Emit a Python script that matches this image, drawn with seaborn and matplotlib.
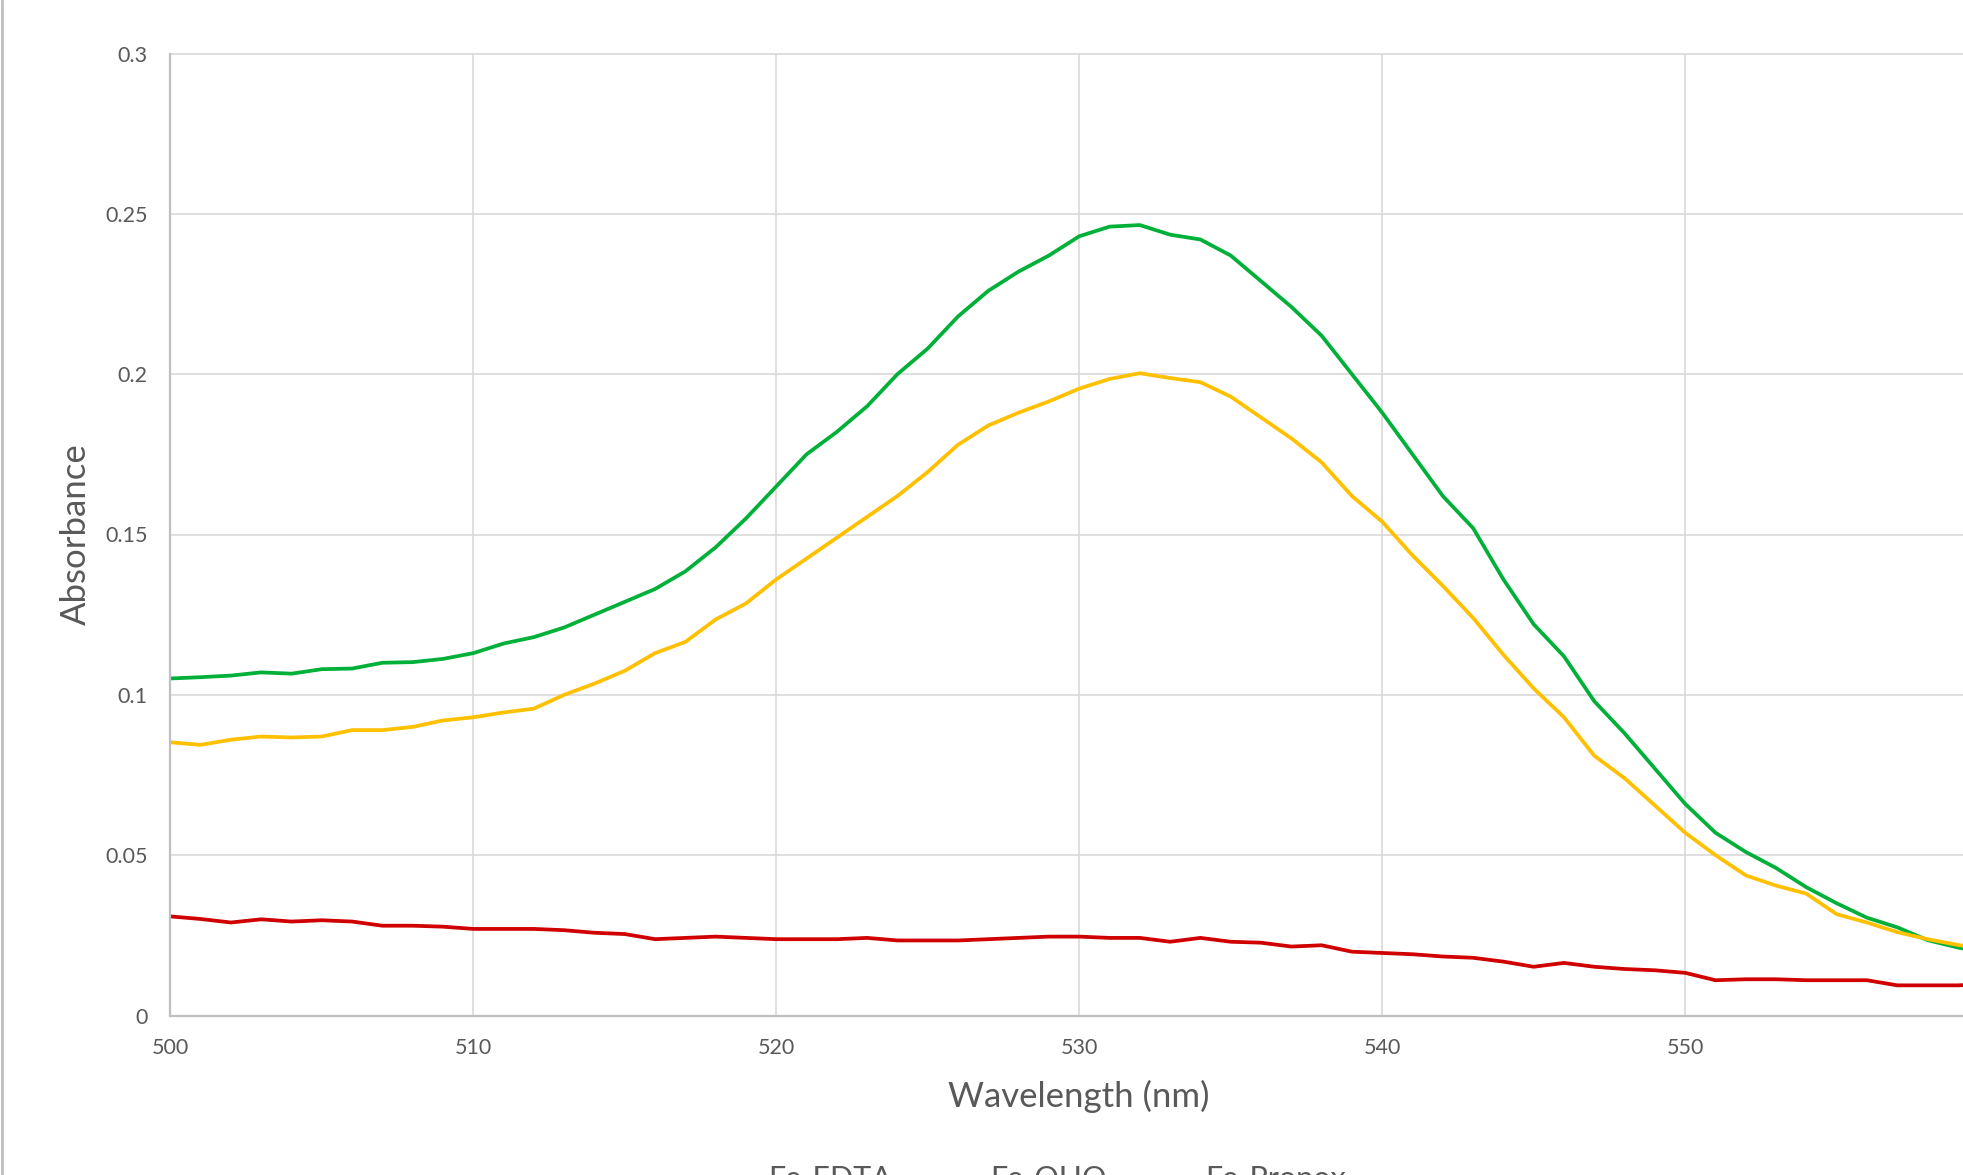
import numpy as np
import pandas as pd
import matplotlib
matplotlib.use("Agg")
import matplotlib.pyplot as plt
import seaborn as sns

# ---- data ----
wavelength = list(range(500, 561))
fe_edta = [0.1051, 0.1055, 0.1060, 0.1070, 0.1066, 0.1080, 0.1082, 0.1100, 0.1102, 0.1112,
           0.1130, 0.1160, 0.1180, 0.1210, 0.1250, 0.1290, 0.1330, 0.1385, 0.1460, 0.1550,
           0.1650, 0.1750, 0.1820, 0.1900, 0.2000, 0.2080, 0.2180, 0.2260, 0.2320, 0.2370,
           0.2430, 0.2460, 0.2465, 0.2435, 0.2420, 0.2370, 0.2290, 0.2210, 0.2120, 0.2000,
           0.1880, 0.1750, 0.1620, 0.1520, 0.1360, 0.1220, 0.1120, 0.0980, 0.0880, 0.0770,
           0.0660, 0.0570, 0.0510, 0.0460, 0.0400, 0.0350, 0.0305, 0.0275, 0.0235, 0.0212,
           0.0195]
fe_ohq = [0.0852, 0.0844, 0.0860, 0.0870, 0.0867, 0.0870, 0.0890, 0.0890, 0.0900, 0.0920,
          0.0930, 0.0945, 0.0957, 0.1000, 0.1035, 0.1075, 0.1130, 0.1165, 0.1235, 0.1285,
          0.1360, 0.1425, 0.1490, 0.1555, 0.1620, 0.1695, 0.1780, 0.1840, 0.1880, 0.1915,
          0.1955, 0.1985, 0.2003, 0.1988, 0.1975, 0.1930, 0.1865, 0.1800, 0.1725, 0.1620,
          0.1540, 0.1435, 0.1340, 0.1240, 0.1125, 0.1020, 0.0930, 0.0810, 0.0740, 0.0655,
          0.0570, 0.0500, 0.0437, 0.0405, 0.0380, 0.0316, 0.0290, 0.0260, 0.0238, 0.0220,
          0.0205]
fe_propox = [0.0309, 0.0301, 0.0290, 0.0300, 0.0293, 0.0297, 0.0293, 0.0280, 0.0280, 0.0277,
             0.0270, 0.0270, 0.0270, 0.0266, 0.0258, 0.0254, 0.0238, 0.0242, 0.0246, 0.0242,
             0.0238, 0.0238, 0.0238, 0.0242, 0.0234, 0.0234, 0.0234, 0.0238, 0.0242, 0.0246,
             0.0246, 0.0242, 0.0242, 0.0230, 0.0242, 0.0230, 0.0227, 0.0215, 0.0219, 0.0199,
             0.0195, 0.0191, 0.0184, 0.0180, 0.0168, 0.0152, 0.0164, 0.0152, 0.0145, 0.0141,
             0.0133, 0.0110, 0.0113, 0.0113, 0.0110, 0.0110, 0.0110, 0.0094, 0.0094, 0.0094,
             0.0098]
series_names = ["Fe-EDTA", "Fe-OHQ", "Fe-Propox"]
series_colors = ["#00B038", "#FFC000", "#D00000"]
x_ticks = [500, 510, 520, 530, 540, 550]
y_ticks = [0, 0.05, 0.1, 0.15, 0.2, 0.25, 0.3]
y_tick_labels = ["0", "0.05", "0.1", "0.15", "0.2", "0.25", "0.3"]

df = pd.DataFrame({
    "Wavelength (nm)": wavelength * 3,
    "Absorbance": fe_edta + fe_ohq + fe_propox,
    "Series": [series_names[0]] * len(wavelength) + [series_names[1]] * len(wavelength)
              + [series_names[2]] * len(wavelength),
})

sns.set_theme(style="white")
plt.rcParams["font.family"] = ["Lato", "DejaVu Sans"]

W, H = 1963, 1175
fig = plt.figure(figsize=(W / 100, H / 100), dpi=100)
left = 170.3 / W
bottom = 1 - 1015.5 / H
top = 1 - 53.5 / H
ax = fig.add_axes([left, bottom, 1 - left, top - bottom])

sns.lineplot(data=df, x="Wavelength (nm)", y="Absorbance", hue="Series",
             palette=dict(zip(series_names, series_colors)), linewidth=2.7, ax=ax)
for ln in ax.get_lines():
    ln.set_solid_joinstyle("round")
    ln.set_solid_capstyle("round")

ax.set_xlim(500, 559.17)
ax.set_ylim(0, 0.3)
ax.set_xticks(x_ticks)
ax.set_xticklabels([str(t) for t in x_ticks])
ax.set_yticks(y_ticks)
ax.set_yticklabels(y_tick_labels)

txt = "#595959"
ax.tick_params(axis="x", length=0, pad=16.5, labelsize=15.5, labelcolor=txt)
ax.tick_params(axis="y", length=0, pad=16.5, labelsize=15.5, labelcolor=txt)

ax.grid(True, color="#D9D9D9", linewidth=1.2)
ax.set_axisbelow(True)
for g in ax.get_ygridlines() + ax.get_xgridlines():
    g.set_clip_on(False)
for s in ["top", "right"]:
    ax.spines[s].set_visible(False)
for s in ["left", "bottom"]:
    ax.spines[s].set_color("#BFBFBF")
    ax.spines[s].set_linewidth(1.6)

ax.set_xlabel("Wavelength (nm)", fontsize=25, color=txt)
ax.set_ylabel("Absorbance", fontsize=25, color=txt)
ax.xaxis.set_label_coords(0.507, -0.067)
ax.yaxis.set_label_coords(-0.0435, 0.5)

handles, labels = ax.get_legend_handles_labels()
if ax.get_legend() is not None:
    ax.get_legend().remove()
fig.legend(handles, labels, loc="upper left", bbox_to_anchor=(0.3523, 1 - 1165 / H),
           ncol=3, frameon=False, fontsize=22, handlelength=2.0, handletextpad=0.5,
           columnspacing=0.72, borderpad=0, borderaxespad=0, labelcolor=txt)

# outer chart border on the left edge
fig.add_artist(plt.Line2D([1.5 / W, 1.5 / W], [0, 1], transform=fig.transFigure,
                          color="#BFBFBF", linewidth=2))

fig.savefig("out.png", dpi=100)
